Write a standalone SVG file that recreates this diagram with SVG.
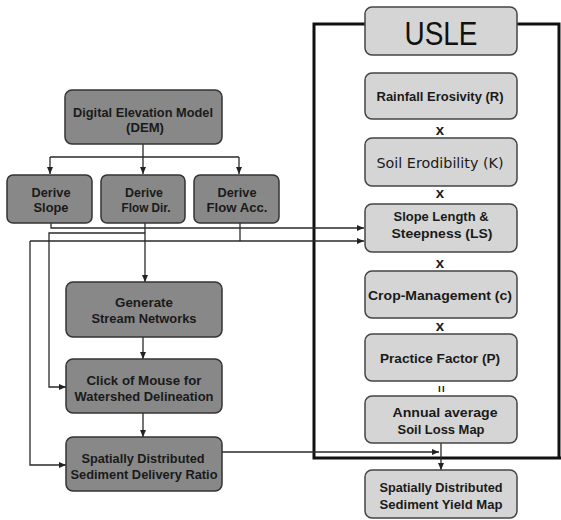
<svg xmlns="http://www.w3.org/2000/svg" width="561" height="520" viewBox="0 0 561 520">
<defs>
<marker id="ah" markerUnits="userSpaceOnUse" markerWidth="7" markerHeight="6" refX="7" refY="3" orient="auto">
<path d="M0,0 L7,3 L0,6 z" fill="#222"/>
</marker>
<style>
.dk{fill:#888;stroke:#333;stroke-width:1.5}
.lt{fill:#d5d5d5;stroke:#444;stroke-width:1.5}
.t{font-family:"Liberation Sans",Arial,sans-serif;font-weight:bold;font-size:12px;fill:#1a1a1a;text-anchor:middle}
.x{font-family:"Liberation Sans",Arial,sans-serif;font-weight:bold;font-size:15px;fill:#1a1a1a;text-anchor:middle}
.c{fill:none;stroke:#2a2a2a;stroke-width:1.3}
.fr{fill:none;stroke:#111;stroke-width:3}
</style>
</defs>
<rect width="561" height="520" fill="#fff"/>
<g id="frame">
<path class="fr" d="M365,24 H314 V458 H561 M517,24 H559 V458"/>
</g>
<g id="connectors">
<path class="c" d="M143,144 V157"/>
<path class="c" d="M50,157 H239"/>
<path class="c" d="M50,157 V174" marker-end="url(#ah)"/>
<path class="c" d="M143,157 V174" marker-end="url(#ah)"/>
<path class="c" d="M239,157 V174" marker-end="url(#ah)"/>
<path class="c" d="M51,223 V228 H364" marker-end="url(#ah)"/>
<path class="c" d="M145,223 V282" marker-end="url(#ah)"/>
<path class="c" d="M145,233 H49 V387 H66" marker-end="url(#ah)"/>
<path class="c" d="M240,223 V241"/>
<path class="c" d="M30,241 H364" marker-end="url(#ah)"/>
<path class="c" d="M30,241 V465 H66" marker-end="url(#ah)"/>
<path class="c" d="M143,337 V359" marker-end="url(#ah)"/>
<path class="c" d="M143,413 V437" marker-end="url(#ah)"/>
<path class="c" d="M222,452 H439" marker-end="url(#ah)"/>
<path class="c" d="M441,443 V470" marker-end="url(#ah)"/>
</g>
<g id="dem">
<rect class="dk" x="65" y="90" width="157" height="54" rx="7"/>
<text class="t" x="143" y="117" textLength="140" lengthAdjust="spacingAndGlyphs">Digital Elevation Model</text>
<text class="t" x="145" y="132" textLength="38" lengthAdjust="spacingAndGlyphs">(DEM)</text>
</g>
<g id="slope">
<rect class="dk" x="7" y="175" width="85" height="48" rx="6"/>
<text class="t" x="51" y="197" textLength="39" lengthAdjust="spacingAndGlyphs">Derive</text>
<text class="t" x="51" y="212" textLength="35" lengthAdjust="spacingAndGlyphs">Slope</text>
</g>
<g id="flowdir">
<rect class="dk" x="101" y="175" width="84" height="48" rx="6"/>
<text class="t" x="144" y="197" textLength="38" lengthAdjust="spacingAndGlyphs">Derive</text>
<text class="t" x="146" y="212" textLength="49" lengthAdjust="spacingAndGlyphs">Flow Dir.</text>
</g>
<g id="flowacc">
<rect class="dk" x="194" y="175" width="85" height="48" rx="6"/>
<text class="t" x="237" y="197" textLength="39" lengthAdjust="spacingAndGlyphs">Derive</text>
<text class="t" x="237" y="212" textLength="61" lengthAdjust="spacingAndGlyphs">Flow Acc.</text>
</g>
<g id="stream">
<rect class="dk" x="66" y="282" width="156" height="55" rx="7"/>
<text class="t" x="144" y="307" textLength="58" lengthAdjust="spacingAndGlyphs">Generate</text>
<text class="t" x="144" y="323" textLength="105" lengthAdjust="spacingAndGlyphs">Stream Networks</text>
</g>
<g id="click">
<rect class="dk" x="66" y="359" width="156" height="54" rx="7"/>
<text class="t" x="144" y="385" textLength="115" lengthAdjust="spacingAndGlyphs">Click of Mouse for</text>
<text class="t" x="144" y="401" textLength="139" lengthAdjust="spacingAndGlyphs">Watershed Delineation</text>
</g>
<g id="sdr">
<rect class="dk" x="66" y="437" width="156" height="54" rx="7"/>
<text class="t" x="143" y="463" textLength="123" lengthAdjust="spacingAndGlyphs">Spatially Distributed</text>
<text class="t" x="144" y="479" textLength="147" lengthAdjust="spacingAndGlyphs">Sediment Delivery Ratio</text>
</g>
<g id="usle">
<rect class="lt" x="365" y="7" width="152" height="48" rx="7"/>
<text x="441" y="45" font-family="'Liberation Sans',Arial,sans-serif" font-size="34" fill="#111" text-anchor="middle" textLength="73" lengthAdjust="spacingAndGlyphs">USLE</text>
</g>
<g id="rainfall">
<rect class="lt" x="365" y="73" width="152" height="46" rx="7"/>
<text class="t" x="440" y="101" textLength="127" lengthAdjust="spacingAndGlyphs">Rainfall Erosivity (R)</text>
</g>
<text class="x" x="440" y="135">x</text>
<g id="soil">
<rect class="lt" x="365" y="138" width="152" height="48" rx="7"/>
<text x="440" y="168" font-family="'DejaVu Sans',sans-serif" font-size="14" fill="#1a1a1a" text-anchor="middle" textLength="127" lengthAdjust="spacingAndGlyphs">Soil Erodibility (K)</text>
</g>
<text class="x" x="440" y="198">x</text>
<g id="ls">
<rect class="lt" x="365" y="204" width="152" height="48" rx="7"/>
<text class="t" x="441" y="221" textLength="95" lengthAdjust="spacingAndGlyphs">Slope Length &amp;</text>
<text class="t" x="442" y="238" textLength="101" lengthAdjust="spacingAndGlyphs">Steepness (LS)</text>
</g>
<text class="x" x="440" y="268">x</text>
<g id="crop">
<rect class="lt" x="365" y="271" width="152" height="47" rx="7"/>
<text class="t" x="440" y="300" textLength="144" lengthAdjust="spacingAndGlyphs">Crop-Management (c)</text>
</g>
<text class="x" x="440" y="331">x</text>
<g id="practice">
<rect class="lt" x="365" y="334" width="152" height="47" rx="7"/>
<text class="t" x="440" y="363" textLength="120" lengthAdjust="spacingAndGlyphs">Practice Factor (P)</text>
</g>
<text class="t" x="0" y="0" transform="translate(437,389) rotate(90)">=</text>
<g id="annual">
<rect class="lt" x="365" y="396" width="152" height="47" rx="7"/>
<text class="t" x="445" y="417" textLength="105" lengthAdjust="spacingAndGlyphs">Annual average</text>
<text class="t" x="441" y="434" textLength="87" lengthAdjust="spacingAndGlyphs">Soil Loss Map</text>
</g>
<g id="yield">
<rect class="lt" x="365" y="470" width="152" height="48" rx="7"/>
<text class="t" x="441" y="492" textLength="123" lengthAdjust="spacingAndGlyphs">Spatially Distributed</text>
<text class="t" x="441" y="509" textLength="123" lengthAdjust="spacingAndGlyphs">Sediment Yield Map</text>
</g>
</svg>
